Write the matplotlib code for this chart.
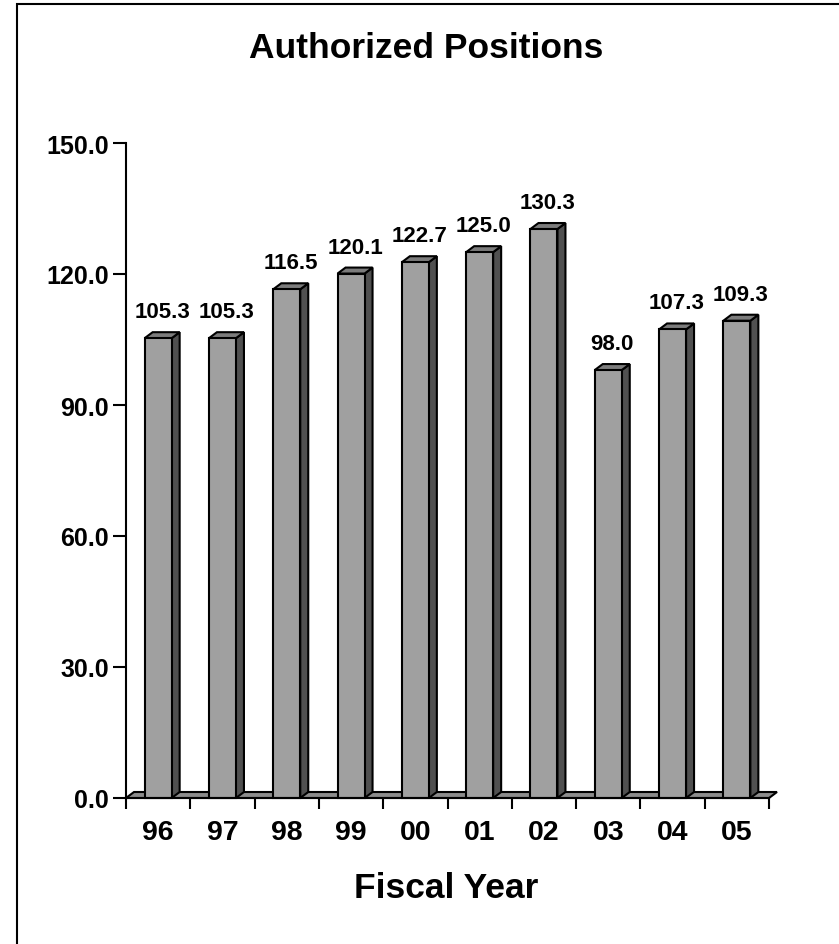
import matplotlib
matplotlib.use('Agg')
import matplotlib.pyplot as plt
from matplotlib.patches import Polygon, Rectangle

matplotlib.rcParams['font.family'] = ['Liberation Sans', 'DejaVu Sans']
matplotlib.rcParams['font.weight'] = 'bold'

years = ['96', '97', '98', '99', '00', '01', '02', '03', '04', '05']
positions = [105.3, 105.3, 116.5, 120.1, 122.7, 125.0, 130.3, 98.0, 107.3, 109.3]
yticks = [0, 30, 60, 90, 120, 150]

W, H = 839, 945
fig = plt.figure(figsize=(W / 100, H / 100), dpi=100)
ax = fig.add_axes([126 / W, 146 / H, 643 / W, 655 / H])
ax.set_xlim(0, len(years))
ax.set_ylim(0, 150)

# depth of the fake 3d look: 8 px to the right, 6 px up
dx = 8 * len(years) / ax.bbox.width
dy = 6 * 150 / ax.bbox.height
bw = 0.42

# floor slab
ax.add_patch(Polygon([(0, 0), (len(years), 0), (len(years) + dx, dy), (dx, dy)],
                     fc='#8c8c8c', ec='k', lw=1.5, clip_on=False, zorder=1))

for i, v in enumerate(positions):
    x0 = i + 0.5 - bw / 2
    x1 = x0 + bw
    ax.add_patch(Polygon([(x1, 0), (x1 + dx, dy), (x1 + dx, v + dy), (x1, v)],
                         fc='#505050', ec='k', lw=1.5, clip_on=False, zorder=3))
    ax.add_patch(Polygon([(x0, v), (x0 + dx, v + dy), (x1 + dx, v + dy), (x1, v)],
                         fc='#7c7c7c', ec='k', lw=1.5, clip_on=False, zorder=3))
    ax.add_patch(Rectangle((x0, 0), bw, v, fc='#a0a0a0', ec='k', lw=1.5,
                           clip_on=False, zorder=4))
    ax.annotate(f'{v:.1f}', (i + 0.5 + dx / 2, v), xytext=(0, 21),
                textcoords='offset pixels', ha='center', va='baseline', fontsize=16)

for s in ['top', 'right']:
    ax.spines[s].set_visible(False)
for s in ['left', 'bottom']:
    ax.spines[s].set_linewidth(1.5)
    ax.spines[s].set_zorder(5)

ax.set_yticks(yticks)
ax.set_yticklabels([f'{t:.1f}' for t in yticks], fontsize=18)
ax.tick_params(axis='y', direction='out', length=9.4, width=1.5, pad=3)

ax.set_xticks(range(len(years) + 1))
ax.set_xticklabels([])
ax.set_xticks([i + 0.5 for i in range(len(years))], minor=True)
ax.set_xticklabels(years, minor=True, fontsize=20.5)
ax.tick_params(axis='x', which='major', direction='out', length=8, width=1.5)
ax.tick_params(axis='x', which='minor', length=0, pad=15)

ax.set_xlabel('Fiscal Year', fontsize=25.5, fontweight='bold', va='baseline')
ax.xaxis.set_label_coords(0.4977, (H - 898 - 146) / 655)

fig.suptitle('Authorized Positions', x=426 / W, y=1 - 58 / H, va='baseline',
             fontsize=25.5, fontweight='bold')

# outer frame (only left and top edges fall inside the picture)
fig.add_artist(Rectangle((17 / W, -0.1), 1.2, 1 - 5 / H + 0.1, transform=fig.transFigure,
                         fill=False, ec='k', lw=1.5))

plt.savefig('out.png', dpi=100)
